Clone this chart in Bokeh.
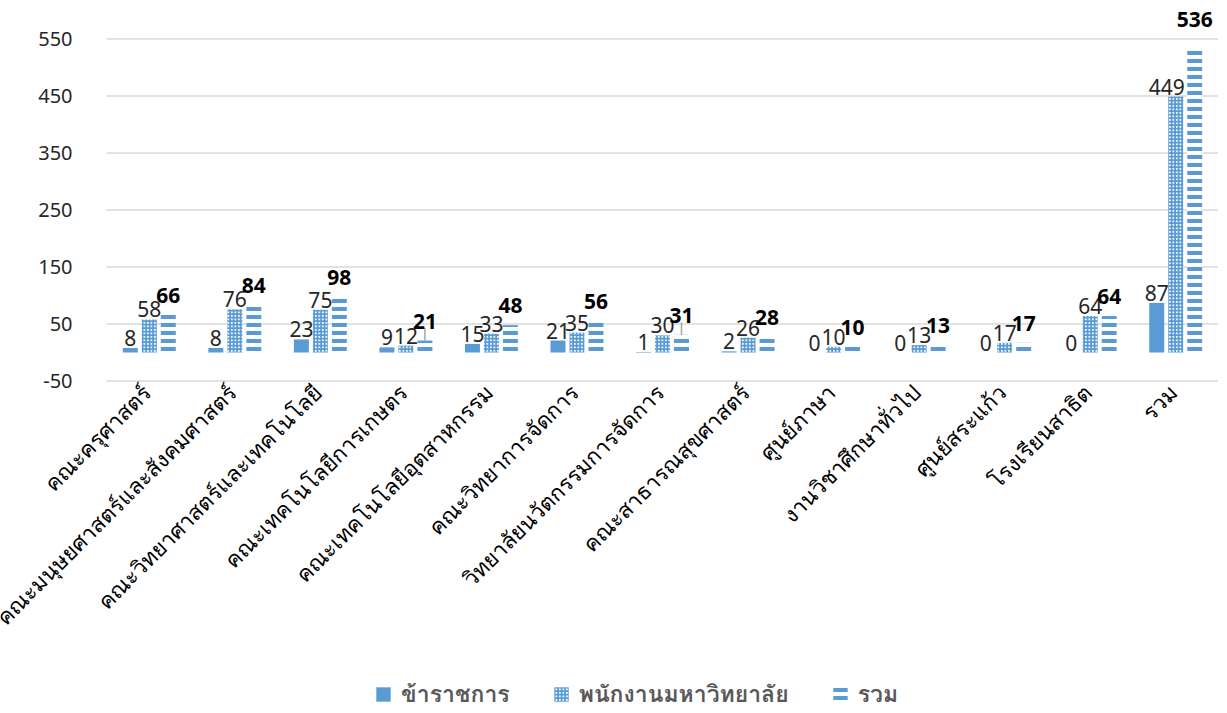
from math import pi
from bokeh.plotting import figure
from bokeh.models import ColumnDataSource, Range1d, Legend, LegendItem
from bokeh.transform import dodge
from bokeh.core.properties import value
from bokeh.embed import file_html
from bokeh.resources import INLINE

categories = ["คณะครุศาสตร์", "คณะมนุษยศาสตร์และสังคมศาสตร์", "คณะวิทยาศาสตร์และเทคโนโลยี",
              "คณะเทคโนโลยีการเกษตร", "คณะเทคโนโลยีอุตสาหกรรม", "คณะวิทยาการจัดการ",
              "วิทยาลัยนวัตกรรมการจัดการ", "คณะสาธารณสุขศาสตร์", "ศูนย์ภาษา",
              "งานวิชาศึกษาทั่วไป", "ศูนย์สระแก้ว", "โรงเรียนสาธิต", "รวม"]
gov = [8, 8, 23, 9, 15, 21, 1, 2, 0, 0, 0, 0, 87]
staff = [58, 76, 75, 12, 33, 35, 30, 26, 10, 13, 17, 64, 449]
total = [66, 84, 98, 21, 48, 56, 31, 28, 10, 13, 17, 64, 536]
series_names = ["ข้าราชการ", "พนักงานมหาวิทยาลัย", "รวม"]
y_ticks = [-50, 50, 150, 250, 350, 450, 550]
leader_cats = ["คณะเทคโนโลยีการเกษตร", "วิทยาลัยนวัตกรรมการจัดการ"]

BLUE = "#5B9BD5"
THAI = "Tahoma, 'Leelawadee UI', Loma, Garuda, 'Noto Sans Thai', 'Noto Sans', sans-serif"
NUM = "'Noto Sans', sans-serif"
OFF = 0.222
BW = 0.175
N = len(categories)
Y_MIN = y_ticks[0]

src = ColumnDataSource(dict(
    x=[i + 0.5 for i in range(N)],
    cat=categories, gov=gov, staff=staff, total=total,
    gov_s=[str(v) for v in gov], staff_s=[str(v) for v in staff], total_s=[str(v) for v in total],
    sx_off=[-9 if c == "รวม" else 0 for c in categories],
    ty_off=[-20 if c == "รวม" else -12 for c in categories],
    base=[Y_MIN] * N,
))

# numeric category scale; the frame spans the whole canvas so that the rotated
# category labels, the value labels and the legend can be placed freely
p = figure(x_range=Range1d(-106 / 85.5, N), y_range=Range1d(-633.3, 600),
           frame_width=1218, frame_height=703, output_backend="svg", toolbar_location=None,
           x_axis_location=None, y_axis_location=None,
           min_border_left=0, min_border_top=10, min_border_right=0, min_border_bottom=0)
p.outline_line_color = None
p.xgrid.visible = False
p.ygrid.visible = False

# horizontal gridlines at the value ticks, across the category area
gsrc = ColumnDataSource(dict(y=y_ticks, x0=[0] * len(y_ticks), x1=[N] * len(y_ticks),
                             t=[str(t) for t in y_ticks]))
p.segment(x0='x0', x1='x1', y0='y', y1='y', source=gsrc, line_color="#D9D9D9", line_width=1.5)
p.text(x='x0', y='y', text='t', source=gsrc, text_align='right', text_baseline='middle',
       x_offset=-34, text_font=value(NUM), text_font_size='20px', text_color="#262626")

r1 = p.vbar(x=dodge('x', -OFF), top='gov', bottom=0, width=BW, source=src,
            fill_color=BLUE, line_color=None)
r2 = p.vbar(x=dodge('x', 0), top='staff', bottom=0, width=BW, source=src,
            fill_color="white", line_color=None, hatch_pattern="cross", hatch_color=BLUE,
            hatch_scale=3.5, hatch_weight=2.2)
r3 = p.vbar(x=dodge('x', OFF), top='total', bottom=0, width=BW, source=src,
            fill_color="white", line_color=None, hatch_pattern="horizontal_line", hatch_color=BLUE,
            hatch_scale=8, hatch_weight=4)

lsrc = ColumnDataSource(dict(
    x=[categories.index(c) + 0.5 for c in leader_cats],
    y0=[total[categories.index(c)] for c in leader_cats],
    y1=[total[categories.index(c)] + 22 for c in leader_cats],
))
p.segment(x0=dodge('x', OFF), x1=dodge('x', OFF), y0='y0', y1='y1', source=lsrc,
          line_color="#A6A6A6", line_width=1.5)

p.text(x=dodge('x', -OFF), y='gov', text='gov_s', source=src,
       text_align='center', text_baseline='bottom', y_offset=-2,
       text_font=value(NUM), text_font_size='21px', text_color="#262626")
p.text(x=dodge('x', 0), y='staff', text='staff_s', source=src,
       text_align='center', text_baseline='bottom', y_offset=-2, x_offset='sx_off',
       text_font=value(NUM), text_font_size='21px', text_color="#262626")
p.text(x=dodge('x', OFF), y='total', text='total_s', source=src,
       text_align='center', text_baseline='bottom', y_offset='ty_off',
       text_font=value(NUM), text_font_size='21px', text_font_style='bold', text_color="#000000")

# category labels (rotated 45 degrees, ending at the category position)
p.text(x='x', y='base', text='cat', source=src, angle=pi / 4,
       text_align='right', text_baseline='middle', x_offset=-2, y_offset=8,
       text_font=value(THAI), text_font_size='22px', text_color="#000000")

legend = Legend(items=[LegendItem(label=series_names[0], renderers=[r1]),
                       LegendItem(label=series_names[1], renderers=[r2]),
                       LegendItem(label=series_names[2], renderers=[r3])],
                orientation="horizontal", location=(374, 1))
legend.label_text_font = THAI
legend.label_text_font_size = '23px'
legend.label_text_font_style = 'bold'
legend.label_text_color = "#595959"
legend.glyph_width = 18
legend.glyph_height = 18
legend.spacing = 42
legend.label_standoff = 9
legend.padding = 0
legend.margin = 0
legend.border_line_color = None
legend.background_fill_alpha = 0
p.add_layout(legend, "center")

open("out.html", "w").write(file_html(p, INLINE))
